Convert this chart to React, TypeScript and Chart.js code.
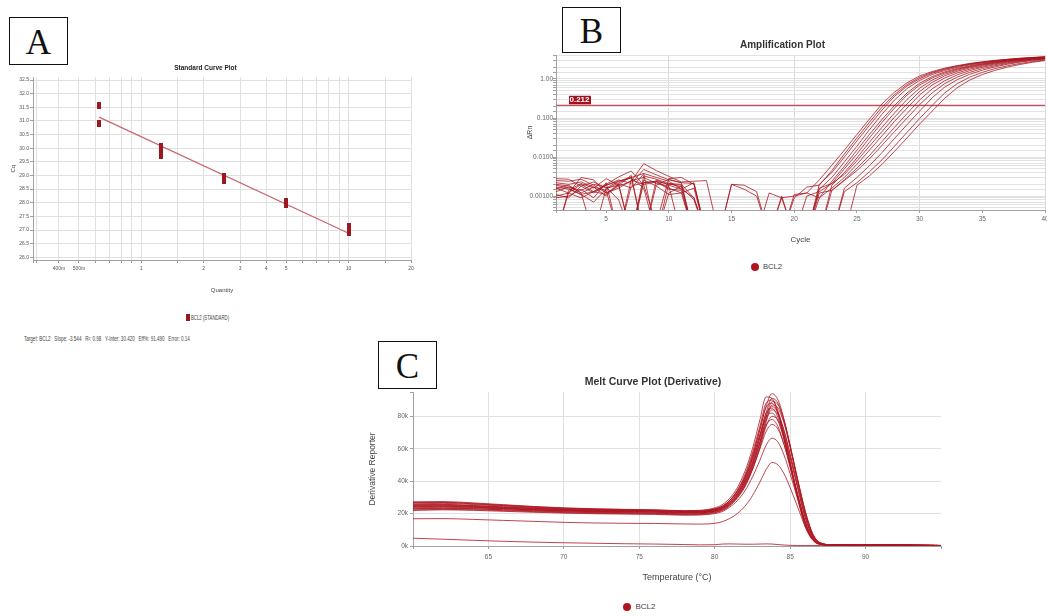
import React, { useEffect, useRef } from 'react';
import { Chart, registerables } from 'chart.js';

Chart.register(...registerables);

const FONT = "'Liberation Sans', Arial, Helvetica, sans-serif";
const SERIF = "'Liberation Serif', 'Times New Roman', serif";

// ---------- Panel A : standard curve ----------
const STD_QUANTITY = [0.625, 0.625, 1.25, 1.25, 1.25, 2.5, 2.5, 5, 5, 10, 10];
const STD_CQ = [31.57, 30.9, 30.05, 29.97, 29.72, 28.98, 28.82, 28.03, 27.93, 27.12, 26.92];
const FIT_QUANTITY = [0.625, 10];
const FIT_CQ = [31.14, 26.88];
const QTY_TICK_VALUES = [0.4, 0.5, 1, 2, 3, 4, 5, 10, 20];
const QTY_TICK_LABELS = ['400m', '500m', '1', '2', '3', '4', '5', '10', '20'];
const STATS_TEXT = 'Target: BCL2   Slope: -3.544   R²: 0.98   Y-Inter: 30.420   Eff%: 91.490   Error: 0.14';

// ---------- Panel B : amplification plot ----------
const CYCLES = [1, 2, 3, 4, 5, 6, 7, 8, 9, 10, 11, 12, 13, 14, 15, 16, 17, 18, 19, 20, 21, 22, 23, 24, 25, 26, 27, 28, 29, 30, 31, 32, 33, 34, 35, 36, 37, 38, 39, 40];
const THRESHOLD = 0.212;
const AMP_01 = [0.0028, 0.0027, 0.0018, 0.0012, 0.0019, 0.0026, 0.0021, 0.0048, 0.0035, 0.0026, 0.0022, 0.0021, 0.0001, 0.0001, 0.0001, 0.0001, 0.0001, 0.0001, 0.0009, 0.001, 0.0012, 0.0026, 0.0062, 0.015, 0.038, 0.094, 0.23, 0.46, 0.8, 1.2, 1.55, 1.9, 2.2, 2.5, 2.75, 3.0, 3.2, 3.4, 3.55, 3.7];
const AMP_02 = [0.0019, 0.0016, 0.0011, 0.0007, 0.0015, 0.0022, 0.003, 0.0038, 0.003, 0.0024, 0.0015, 0.0009, 0.0001, 0.0001, 0.0001, 0.0001, 0.0001, 0.0001, 0.0001, 0.0009, 0.0017, 0.0019, 0.0045, 0.012, 0.031, 0.078, 0.19, 0.4, 0.72, 1.1, 1.48, 1.82, 2.15, 2.45, 2.72, 2.95, 3.18, 3.38, 3.55, 3.7];
const AMP_03 = [0.001, 0.0012, 0.003, 0.0026, 0.0012, 0.0018, 0.0024, 0.0068, 0.0045, 0.0032, 0.0023, 0.0024, 0.0025, 0.0001, 0.0001, 0.0001, 0.0001, 0.0001, 0.0001, 0.0001, 0.0001, 0.002, 0.004, 0.01, 0.026, 0.065, 0.16, 0.36, 0.66, 1.02, 1.4, 1.75, 2.08, 2.38, 2.65, 2.9, 3.12, 3.32, 3.5, 3.65];
const AMP_04 = [0.0001, 0.0014, 0.0021, 0.0016, 0.0028, 0.0019, 0.0001, 0.0026, 0.0018, 0.0011, 0.0012, 0.0016, 0.0001, 0.0001, 0.002, 0.0015, 0.001, 0.0001, 0.0001, 0.0001, 0.0001, 0.0015, 0.003, 0.0075, 0.019, 0.05, 0.125, 0.29, 0.57, 0.92, 1.3, 1.65, 1.98, 2.3, 2.58, 2.84, 3.06, 3.28, 3.46, 3.62];
const AMP_05 = [0.0022, 0.002, 0.0023, 0.0017, 0.001, 0.002, 0.0001, 0.0022, 0.0024, 0.002, 0.0019, 0.0001, 0.0001, 0.0001, 0.0001, 0.0001, 0.0001, 0.0001, 0.0001, 0.0011, 0.0012, 0.0009, 0.0024, 0.0058, 0.015, 0.038, 0.092, 0.21, 0.44, 0.78, 1.15, 1.52, 1.86, 2.18, 2.48, 2.75, 3.0, 3.22, 3.42, 3.58];
const AMP_06 = [0.0016, 0.0012, 0.0009, 0.0013, 0.002, 0.0031, 0.0044, 0.0019, 0.0002, 0.0028, 0.003, 0.002, 0.0001, 0.0001, 0.0001, 0.0001, 0.0001, 0.0001, 0.0001, 0.0001, 0.0001, 0.0016, 0.0021, 0.005, 0.012, 0.031, 0.077, 0.18, 0.39, 0.7, 1.06, 1.43, 1.78, 2.1, 2.4, 2.68, 2.94, 3.16, 3.36, 3.54];
const AMP_07 = [0.0013, 0.0017, 0.0014, 0.002, 0.0017, 0.0008, 0.0001, 0.0033, 0.0027, 0.0021, 0.002, 0.0009, 0.0001, 0.0001, 0.0001, 0.0001, 0.0001, 0.0001, 0.001, 0.0001, 0.0001, 0.0001, 0.0019, 0.004, 0.0095, 0.024, 0.058, 0.135, 0.3, 0.58, 0.94, 1.32, 1.68, 2.02, 2.33, 2.62, 2.88, 3.12, 3.33, 3.5];
const AMP_08 = [0.0025, 0.0024, 0.0027, 0.0019, 0.0012, 0.0016, 0.0025, 0.003, 0.0021, 0.0018, 0.0001, 0.0001, 0.0001, 0.0001, 0.0001, 0.0001, 0.0001, 0.0001, 0.0001, 0.0001, 0.001, 0.0013, 0.0021, 0.0036, 0.008, 0.019, 0.045, 0.105, 0.23, 0.48, 0.82, 1.2, 1.57, 1.92, 2.24, 2.54, 2.82, 3.06, 3.28, 3.46];
const AMP_09 = [0.0009, 0.001, 0.0015, 0.0009, 0.0022, 0.0001, 0.0026, 0.002, 0.0023, 0.0015, 0.0014, 0.0001, 0.0001, 0.0001, 0.0001, 0.0001, 0.0001, 0.0001, 0.0001, 0.0001, 0.0001, 0.0009, 0.0016, 0.003, 0.0065, 0.015, 0.035, 0.082, 0.18, 0.39, 0.7, 1.06, 1.43, 1.78, 2.12, 2.44, 2.72, 2.98, 3.22, 3.42];
const AMP_10 = [0.0017, 0.0015, 0.0011, 0.0013, 0.0019, 0.0024, 0.0029, 0.0016, 0.0001, 0.0021, 0.0017, 0.0008, 0.0001, 0.0001, 0.0001, 0.0001, 0.0001, 0.0001, 0.0001, 0.0001, 0.0001, 0.0012, 0.0014, 0.0026, 0.0052, 0.011, 0.025, 0.058, 0.13, 0.29, 0.56, 0.9, 1.28, 1.64, 2.0, 2.32, 2.62, 2.9, 3.14, 3.36];
const AMP_11 = [0.0011, 0.0009, 0.0018, 0.0023, 0.0016, 0.0019, 0.0034, 0.0001, 0.0026, 0.0019, 0.0015, 0.0022, 0.0001, 0.0001, 0.0001, 0.0001, 0.0001, 0.0001, 0.0001, 0.0001, 0.0001, 0.0001, 0.0014, 0.0025, 0.0045, 0.009, 0.02, 0.045, 0.1, 0.22, 0.44, 0.76, 1.12, 1.48, 1.84, 2.18, 2.5, 2.8, 3.06, 3.3];
const AMP_12 = [0.002, 0.0018, 0.0012, 0.0017, 0.0014, 0.0001, 0.0018, 0.0022, 0.0024, 0.0016, 0.0012, 0.0001, 0.0001, 0.0001, 0.0001, 0.0001, 0.0001, 0.0012, 0.0009, 0.0001, 0.0001, 0.0001, 0.0001, 0.0016, 0.003, 0.006, 0.013, 0.03, 0.068, 0.15, 0.33, 0.62, 0.96, 1.32, 1.68, 2.04, 2.38, 2.7, 2.98, 3.24];
const AMP_13 = [0.0015, 0.0019, 0.0012, 0.0001, 0.0016, 0.0024, 0.0031, 0.0001, 0.0019, 0.0027, 0.0022, 0.0001, 0.0001, 0.0001, 0.002, 0.0019, 0.0013, 0.0001, 0.0001, 0.0001, 0.0001, 0.0001, 0.0001, 0.0013, 0.0022, 0.0042, 0.0085, 0.019, 0.043, 0.097, 0.21, 0.44, 0.76, 1.12, 1.48, 1.84, 2.18, 2.5, 2.8, 3.08];
const AMP_14 = [0.0001, 0.0012, 0.002, 0.0013, 0.0011, 0.0021, 0.0016, 0.0037, 0.0001, 0.0012, 0.0018, 0.0001, 0.0001, 0.0001, 0.0001, 0.0001, 0.0001, 0.0001, 0.0001, 0.0001, 0.0001, 0.0001, 0.0001, 0.0001, 0.0019, 0.0033, 0.0065, 0.014, 0.031, 0.07, 0.15, 0.32, 0.6, 0.94, 1.3, 1.66, 2.02, 2.36, 2.68, 2.96];
const AMP_CURVES = [AMP_01, AMP_02, AMP_03, AMP_04, AMP_05, AMP_06, AMP_07, AMP_08, AMP_09, AMP_10, AMP_11, AMP_12, AMP_13, AMP_14];

// ---------- Panel C : melt curve (values in thousands) ----------
const MELT_TEMPS = [60, 62, 64, 66, 68, 70, 72, 74, 76, 78, 79, 80, 80.5, 81, 81.5, 82, 82.5, 83, 83.4, 83.8, 84.2, 84.6, 85, 85.5, 86, 86.5, 87, 88, 90, 92, 95];
const MELT_01 = [26.5, 26.8, 26.0, 25.0, 24.0, 23.2, 22.6, 22.3, 22.0, 21.5, 21.6, 22.8, 24.5, 28.0, 33.5, 42.0, 55.0, 72.0, 86.0, 94.0, 90.0, 78.0, 62.0, 40.0, 20.0, 6.5, 1.6, 0.6, 0.6, 0.5, 0.3];
const MELT_02 = [27.3, 27.4, 26.6, 25.5, 24.4, 23.5, 23.0, 22.6, 22.3, 21.8, 22.0, 23.5, 25.5, 29.5, 36.0, 46.0, 60.0, 78.0, 92.0, 91.0, 82.0, 66.0, 49.0, 29.0, 12.0, 3.5, 1.0, 0.5, 0.6, 0.5, 0.3];
const MELT_03 = [24.2, 24.6, 24.0, 23.2, 22.4, 21.8, 21.4, 21.2, 21.0, 20.5, 20.6, 21.8, 23.2, 26.5, 31.5, 39.5, 51.0, 67.0, 82.0, 91.0, 88.0, 77.0, 61.0, 40.0, 20.5, 7.0, 1.8, 0.6, 0.6, 0.5, 0.3];
const MELT_04 = [25.5, 25.7, 25.0, 24.2, 23.3, 22.6, 22.1, 21.9, 21.7, 21.2, 21.3, 22.6, 24.3, 28.2, 34.5, 44.0, 57.5, 74.0, 88.0, 90.0, 83.0, 69.0, 52.0, 31.0, 13.5, 4.0, 1.1, 0.5, 0.6, 0.5, 0.3];
const MELT_05 = [23.0, 23.4, 23.0, 22.4, 21.8, 21.2, 20.8, 20.6, 20.3, 19.8, 19.9, 21.0, 22.4, 25.5, 30.5, 38.0, 49.0, 64.0, 79.0, 89.0, 87.0, 77.0, 62.0, 41.0, 21.5, 7.5, 2.0, 0.6, 0.6, 0.5, 0.3];
const MELT_06 = [26.0, 26.3, 25.6, 24.7, 23.7, 22.9, 22.4, 22.1, 21.9, 21.4, 21.5, 22.7, 24.3, 28.0, 34.0, 43.0, 56.0, 72.0, 85.5, 88.0, 81.5, 68.0, 51.5, 31.0, 13.5, 4.0, 1.1, 0.5, 0.6, 0.5, 0.3];
const MELT_07 = [22.2, 22.6, 22.4, 21.8, 21.2, 20.6, 20.2, 20.0, 19.8, 19.3, 19.4, 20.5, 21.8, 24.8, 29.5, 36.5, 47.0, 61.5, 76.0, 87.0, 85.0, 75.5, 61.0, 41.0, 21.5, 7.5, 2.0, 0.6, 0.6, 0.5, 0.3];
const MELT_08 = [25.0, 25.2, 24.6, 23.8, 23.0, 22.3, 21.9, 21.7, 21.5, 21.0, 21.1, 22.2, 23.8, 27.2, 32.5, 40.5, 52.0, 67.0, 80.0, 86.0, 82.0, 71.0, 56.0, 36.0, 17.5, 5.5, 1.5, 0.6, 0.6, 0.5, 0.3];
const MELT_09 = [24.5, 24.8, 24.3, 23.5, 22.7, 22.0, 21.6, 21.4, 21.2, 20.7, 20.8, 21.9, 23.5, 27.0, 32.5, 41.0, 53.5, 69.0, 82.0, 85.0, 79.0, 66.0, 50.0, 30.0, 13.0, 4.0, 1.1, 0.5, 0.6, 0.5, 0.3];
const MELT_10 = [23.5, 23.9, 23.5, 22.9, 22.2, 21.6, 21.2, 21.0, 20.8, 20.3, 20.4, 21.5, 22.9, 26.0, 31.0, 38.5, 49.5, 64.0, 77.5, 84.0, 81.0, 71.0, 57.0, 37.5, 19.0, 6.5, 1.7, 0.6, 0.6, 0.5, 0.3];
const MELT_11 = [26.8, 27.0, 26.2, 25.2, 24.2, 23.4, 22.8, 22.5, 22.2, 21.7, 21.8, 23.0, 24.6, 28.2, 33.8, 42.0, 54.0, 68.5, 79.5, 82.0, 77.0, 65.5, 50.5, 31.5, 14.5, 4.5, 1.2, 0.5, 0.6, 0.5, 0.3];
const MELT_12 = [22.8, 23.2, 22.9, 22.3, 21.6, 21.0, 20.6, 20.4, 20.2, 19.7, 19.8, 20.9, 22.2, 25.2, 30.0, 37.0, 47.5, 61.0, 73.5, 80.0, 77.5, 68.0, 54.5, 35.5, 17.5, 6.0, 1.6, 0.6, 0.6, 0.5, 0.3];
const MELT_13 = [25.2, 25.4, 24.8, 24.0, 23.2, 22.5, 22.1, 21.9, 21.7, 21.2, 21.3, 22.3, 23.8, 27.0, 32.0, 39.5, 50.5, 64.0, 74.5, 78.0, 73.5, 62.5, 48.5, 30.5, 14.0, 4.5, 1.2, 0.5, 0.6, 0.5, 0.3];
const MELT_14 = [24.0, 24.3, 23.8, 23.1, 22.4, 21.8, 21.4, 21.2, 21.0, 20.5, 20.6, 21.6, 23.0, 26.0, 30.5, 37.5, 47.5, 60.0, 70.5, 75.0, 72.0, 62.5, 49.5, 32.0, 15.5, 5.0, 1.4, 0.6, 0.6, 0.5, 0.3];
const MELT_15 = [22.0, 22.3, 22.0, 21.4, 20.8, 20.3, 19.9, 19.7, 19.5, 19.0, 19.1, 20.0, 21.2, 24.0, 28.0, 34.0, 42.5, 53.0, 62.0, 66.5, 64.0, 56.0, 44.5, 29.0, 14.0, 4.5, 1.3, 0.6, 0.6, 0.5, 0.3];
const MELT_16 = [16.8, 16.9, 16.4, 15.8, 15.2, 14.6, 14.2, 14.0, 13.9, 13.6, 13.5, 14.0, 15.0, 17.0, 20.0, 24.5, 31.0, 39.5, 47.0, 51.5, 50.0, 44.5, 36.0, 24.0, 12.0, 4.0, 1.2, 0.6, 0.6, 0.5, 0.3];
const MELT_17 = [4.8, 4.2, 3.5, 2.9, 2.4, 2.0, 1.7, 1.4, 1.2, 0.9, 0.7, 0.8, 1.2, 1.3, 1.2, 1.1, 1.1, 1.2, 1.3, 1.2, 0.9, 0.6, 0.4, 0.3, 0.3, 0.3, 0.3, 0.4, 0.5, 0.5, 0.4];
const MELT_CURVES = [MELT_01, MELT_02, MELT_03, MELT_04, MELT_05, MELT_06, MELT_07, MELT_08, MELT_09, MELT_10, MELT_11, MELT_12, MELT_13, MELT_14, MELT_15, MELT_16, MELT_17];

const GRID = '#e0e0e0';
const AXIS = '#a0a0a0';

function makeMarker() {
  const c = document.createElement('canvas');
  c.width = 4;
  c.height = 7;
  const g = c.getContext('2d');
  if (g) {
    g.fillStyle = '#9c1820';
    g.fillRect(0, 0, 4, 7);
  }
  return c;
}

function configA(): any {
  const marker = makeMarker();
  return {
    type: 'scatter',
    data: {
      datasets: [
        {
          label: 'BCL2 (STANDARD)',
          data: STD_QUANTITY.map((x, i) => ({ x, y: STD_CQ[i] })),
          pointStyle: marker,
          showLine: false,
        },
        {
          label: 'fit',
          data: FIT_QUANTITY.map((x, i) => ({ x, y: FIT_CQ[i] })),
          showLine: true,
          borderColor: '#c9686f',
          borderWidth: 1.3,
          pointRadius: 0,
        },
      ],
    },
    options: {
      responsive: false,
      animation: false,
      layout: { padding: { left: 0, right: 17, top: 0, bottom: 0 } },
      plugins: {
        legend: { display: false },
        tooltip: { enabled: false },
        title: {
          display: true,
          text: 'Standard Curve Plot',
          color: '#222',
          font: { family: FONT, size: 6.5, weight: 'bold' },
          padding: { top: 6, bottom: 5.5 },
        },
      },
      scales: {
        x: {
          type: 'logarithmic',
          min: 0.3125,
          max: 20,
          afterFit: (s: any) => { s.height = 38; },
          grid: { color: GRID, tickLength: 3, tickColor: AXIS },
          border: { color: AXIS },
          ticks: {
            autoSkip: false,
            maxRotation: 0,
            padding: 3,
            color: '#555',
            font: { family: FONT, size: 5 },
            callback: (v: any) => {
              const r = Math.round(Number(v) * 1000) / 1000;
              const i = QTY_TICK_VALUES.indexOf(r);
              return i >= 0 ? QTY_TICK_LABELS[i] : '';
            },
          },
          title: {
            display: true,
            text: 'Quantity',
            color: '#444',
            font: { family: FONT, size: 6 },
            padding: { top: 0, bottom: 4.4 },
          },
        },
        y: {
          type: 'linear',
          min: 25.9,
          max: 32.6,
          afterFit: (s: any) => { s.width = 33; },
          grid: { color: GRID, tickLength: 3, tickColor: AXIS },
          border: { color: AXIS },
          ticks: {
            stepSize: 0.5,
            includeBounds: false,
            autoSkip: false,
            padding: 1,
            color: '#555',
            font: { family: FONT, size: 5 },
            callback: (v: any) => Number(v).toFixed(1),
          },
          title: {
            display: true,
            text: 'Cq',
            color: '#444',
            font: { family: FONT, size: 6 },
            padding: { top: 9.4, bottom: 0 },
          },
        },
      },
    },
  };
}

const thresholdLabel = {
  id: 'thresholdLabel',
  afterDatasetsDraw(chart: any) {
    const { ctx, chartArea, scales } = chart;
    const y = scales.y.getPixelForValue(THRESHOLD);
    const x0 = chartArea.left + 13;
    ctx.save();
    ctx.fillStyle = '#a3121c';
    ctx.fillRect(x0, y - 9.5, 22, 8.5);
    ctx.fillStyle = '#ffffff';
    ctx.font = `bold 8px ${FONT}`;
    ctx.textBaseline = 'middle';
    ctx.textAlign = 'left';
    ctx.fillText(THRESHOLD.toFixed(3), x0 + 0.5, y - 5);
    ctx.restore();
  },
};

function configB(): any {
  const curves = AMP_CURVES.map((c) => ({
    label: 'BCL2',
    data: CYCLES.map((x, i) => ({ x, y: c[i] })),
    borderColor: 'rgba(168, 20, 31, 0.78)',
    borderWidth: 1,
    pointRadius: 0,
    tension: 0,
  }));
  const threshold = {
    label: 'threshold',
    data: [
      { x: CYCLES[0], y: THRESHOLD },
      { x: CYCLES[CYCLES.length - 1], y: THRESHOLD },
    ],
    borderColor: '#cf4a55',
    borderWidth: 1.2,
    pointRadius: 0,
  };
  return {
    type: 'line',
    data: { datasets: [...curves, threshold] },
    plugins: [thresholdLabel],
    options: {
      responsive: false,
      animation: false,
      layout: { padding: { left: 0, right: 7, top: 0, bottom: 0 } },
      plugins: {
        legend: { display: false },
        tooltip: { enabled: false },
        title: {
          display: true,
          text: 'Amplification Plot',
          color: '#333',
          font: { family: FONT, size: 10, weight: 'bold' },
          padding: { top: 5, bottom: 4 },
        },
      },
      scales: {
        x: {
          type: 'linear',
          min: 1,
          max: 40,
          afterFit: (s: any) => { s.height = 38; },
          grid: {
            color: (ctx: any) => (ctx.tick && ctx.tick.value % 10 === 0 ? '#dadada' : 'rgba(0,0,0,0)'),
            tickLength: 3,
            tickColor: AXIS,
          },
          border: { color: AXIS },
          ticks: {
            stepSize: 5,
            autoSkip: false,
            maxRotation: 0,
            padding: 2,
            color: '#666',
            font: { family: FONT, size: 6.5 },
            callback: (v: any) => (Number(v) === 1 ? '' : String(v)),
          },
          title: {
            display: true,
            text: 'Cycle',
            color: '#444',
            font: { family: FONT, size: 8 },
            padding: { top: 0, bottom: 3.2 },
          },
        },
        y: {
          type: 'logarithmic',
          min: 0.00044,
          max: 4.12,
          afterFit: (s: any) => { s.width = 36; },
          grid: { color: '#e2e2e2', tickLength: 3, tickColor: AXIS },
          border: { color: AXIS },
          ticks: {
            autoSkip: false,
            padding: 0,
            color: '#666',
            font: { family: FONT, size: 6.5 },
            callback: (v: any) => {
              const n = Number(v);
              const l = Math.log10(n);
              return Math.abs(l - Math.round(l)) < 1e-6 ? n.toPrecision(3) : '';
            },
          },
          title: {
            display: true,
            text: 'ΔRn',
            color: '#444',
            font: { family: FONT, size: 7 },
            padding: { top: 5.8, bottom: 0 },
          },
        },
      },
    },
  };
}

function configC(): any {
  return {
    type: 'line',
    data: {
      datasets: MELT_CURVES.map((c) => ({
        label: 'BCL2',
        data: MELT_TEMPS.map((x, i) => ({ x, y: c[i] })),
        borderColor: 'rgba(172, 22, 34, 0.8)',
        borderWidth: 1,
        pointRadius: 0,
        cubicInterpolationMode: 'monotone',
      })),
    },
    options: {
      responsive: false,
      animation: false,
      layout: { padding: { left: 0, right: 14, top: 0, bottom: 0 } },
      plugins: {
        legend: { display: false },
        tooltip: { enabled: false },
        title: {
          display: true,
          text: 'Melt Curve Plot (Derivative)',
          color: '#333',
          font: { family: FONT, size: 10.5, weight: 'bold' },
          padding: { top: 5.7, bottom: 3.7 },
        },
      },
      scales: {
        x: {
          type: 'linear',
          min: 60,
          max: 95,
          afterFit: (s: any) => { s.height = 40; },
          grid: {
            color: (ctx: any) => (ctx.tick && (ctx.tick.value === 60 || ctx.tick.value === 95) ? 'rgba(0,0,0,0)' : GRID),
            tickLength: 3,
            tickColor: AXIS,
          },
          border: { color: AXIS },
          ticks: {
            stepSize: 5,
            autoSkip: false,
            maxRotation: 0,
            padding: 4,
            color: '#666',
            font: { family: FONT, size: 6.5 },
            callback: (v: any) => (Number(v) === 60 || Number(v) === 95 ? '' : String(v)),
          },
          title: {
            display: true,
            text: 'Temperature (°C)',
            color: '#444',
            font: { family: FONT, size: 9 },
            padding: { top: 0, bottom: 2.6 },
          },
        },
        y: {
          type: 'linear',
          min: 0,
          max: 95,
          afterFit: (s: any) => { s.width = 48; },
          grid: {
            color: (ctx: any) => (ctx.tick && ctx.tick.value === 95 ? 'rgba(0,0,0,0)' : GRID),
            tickLength: 3,
            tickColor: AXIS,
          },
          border: { color: AXIS },
          ticks: {
            stepSize: 20,
            autoSkip: false,
            padding: 2,
            color: '#666',
            font: { family: FONT, size: 6.5 },
            callback: (v: any) => (Number(v) === 95 ? '' : `${v}k`),
          },
          title: {
            display: true,
            text: 'Derivative Reporter',
            color: '#444',
            font: { family: FONT, size: 8.5 },
            padding: { top: 2.9, bottom: 0 },
          },
        },
      },
    },
  };
}

function ChartCanvas({ make, left, top, width, height }: any) {
  const ref = useRef<HTMLCanvasElement | null>(null);
  useEffect(() => {
    if (!ref.current) return;
    const chart = new Chart(ref.current, make());
    return () => chart.destroy();
  }, []);
  return (
    <canvas
      ref={ref}
      width={width}
      height={height}
      style={{ position: 'absolute', left, top, width, height }}
    />
  );
}

function LetterBox({ left, top, width, height, letter }: any) {
  return (
    <div
      style={{
        position: 'absolute',
        left,
        top,
        width,
        height,
        boxSizing: 'border-box',
        border: '1.5px solid #111',
        background: '#fff',
        display: 'flex',
        alignItems: 'center',
        justifyContent: 'center',
        fontFamily: SERIF,
        fontSize: 35,
        lineHeight: 1,
        color: '#111',
        paddingTop: 2,
      }}
    >
      {letter}
    </div>
  );
}

function DotLegend({ cx, cy, d, textLeft, size, text }: any) {
  return (
    <>
      <div
        style={{
          position: 'absolute',
          left: cx - d / 2,
          top: cy - d / 2,
          width: d,
          height: d,
          borderRadius: '50%',
          background: '#b0151f',
        }}
      />
      <div
        style={{
          position: 'absolute',
          left: textLeft,
          top: cy - 6,
          height: 12,
          lineHeight: '12px',
          fontFamily: FONT,
          fontSize: size,
          color: '#444',
          whiteSpace: 'nowrap',
        }}
      >
        {text}
      </div>
    </>
  );
}

export default function App() {
  return (
    <div
      style={{
        position: 'fixed',
        left: 0,
        top: 0,
        width: 1047,
        height: 616,
        overflow: 'hidden',
        background: '#fff',
        fontFamily: FONT,
      }}
    >
      <ChartCanvas make={configA} left={0} top={58} width={428} height={240} />
      <ChartCanvas make={configB} left={520} top={34} width={532} height={214} />
      <ChartCanvas make={configC} left={365} top={370} width={590} height={216} />

      <LetterBox left={9} top={17} width={59} height={48} letter="A" />
      <LetterBox left={562} top={7} width={59} height={46} letter="B" />
      <LetterBox left={378} top={341} width={59} height={48} letter="C" />

      {/* Panel A legend */}
      <div style={{ position: 'absolute', left: 186, top: 314, width: 3.5, height: 7, background: '#9c1820' }} />
      <div
        style={{
          position: 'absolute',
          left: 191,
          top: 313.5,
          lineHeight: '8px',
          fontSize: 6.5,
          color: '#444',
          whiteSpace: 'nowrap',
          transform: 'scaleX(0.66)',
          transformOrigin: 'left center',
        }}
      >
        BCL2 (STANDARD)
      </div>
      <div
        style={{
          position: 'absolute',
          left: 24,
          top: 335,
          lineHeight: '8px',
          fontSize: 6.5,
          color: '#444',
          whiteSpace: 'pre',
          transform: 'scaleX(0.7)',
          transformOrigin: 'left center',
        }}
      >
        {STATS_TEXT}
      </div>

      <DotLegend cx={754.5} cy={267.3} d={8} textLeft={763} size={7.6} text="BCL2" />
      <DotLegend cx={627} cy={607} d={8.5} textLeft={635.5} size={8} text="BCL2" />
    </div>
  );
}
